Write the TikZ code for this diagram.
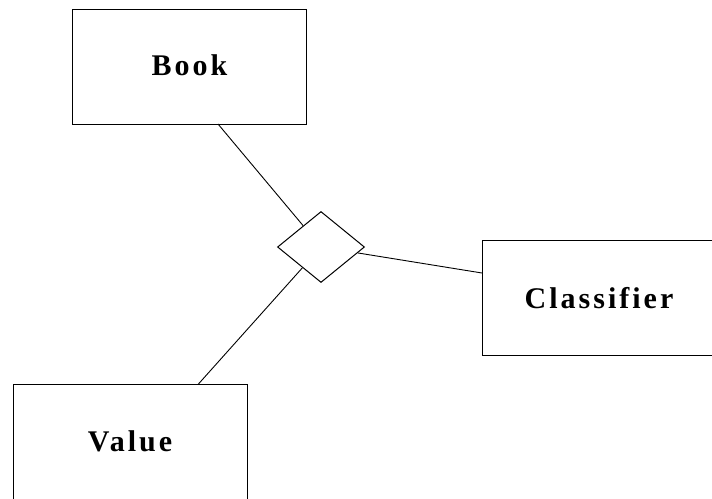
\documentclass[tikz,border=0pt]{standalone}
\usepackage{fontspec}
\setmainfont{Liberation Serif}[LetterSpace=10]
\usetikzlibrary{shapes.geometric}
\begin{document}
\begin{tikzpicture}[x=1pt,y=-1pt,
  entity/.style={draw, line width=1pt, minimum width=234pt, minimum height=115pt, inner sep=0pt,
    font=\fontsize{30}{36}\selectfont\bfseries},
  relation/.style={draw, diamond, line width=1pt, minimum width=87pt, minimum height=71pt, inner sep=0pt},
  link/.style={line width=0.9pt}]
\useasboundingbox (0,0) rectangle (712,498);
\clip (0,0) rectangle (712,498);
\node[entity] (book) at (189.5,66.5) {\raisebox{3pt}{Book}};
\node[entity, minimum width=240pt] (cls) at (602,298) {\hspace*{-6pt}Classifier};
\node[entity] (val) at (130,442) {\raisebox{2pt}{Value}};
\node[relation] (rel) at (321,247) {};
\coordinate (bk) at (218,124);
\coordinate (ck) at (482,273);
\coordinate (vk) at (198,384.5);
\draw[link] (bk) -- (rel);
\draw[link] (ck) -- (rel);
\draw[link] (vk) -- (rel);
\end{tikzpicture}
\end{document}
